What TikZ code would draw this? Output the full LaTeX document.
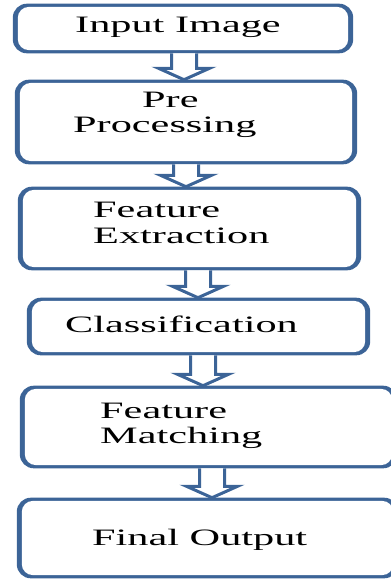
\documentclass[tikz,border=0pt]{standalone}
\usepackage{fontspec}
\setmainfont{Liberation Serif}
\usepackage{graphicx}
\usetikzlibrary{calc}
\definecolor{boxblue}{RGB}{60,100,151}
\tikzset{
  box/.style={inner sep=0pt},
  arr/.style={draw=boxblue, fill=white, line width=3pt, line join=miter},
  lbl/.style={anchor=base west, inner sep=0pt, font=\fontsize{23.5}{26}\selectfont, text=black}
}
% frame with thicker vertical sides than horizontal ones
\newcommand\myframe[1]{%
  \fill[boxblue, rounded corners=14pt] ($(#1.south west)+(-2.5,1.6)$) rectangle ($(#1.north east)+(2.5,-1.6)$);
  \fill[white, rounded corners=11pt] ($(#1.south west)+(2.5,-1.6)$) rectangle ($(#1.north east)+(-2.5,1.6)$);
}
\newcommand\blockarrow[3]{%
  \path (#1.south -| #3) coordinate (tt) (#2.north -| #3) coordinate (pp);
  \filldraw[arr] ($(tt)+(-12.5,1.6)$) -- ($(pp)+(-12.5,-13)$) -- ($(pp)+(-25.5,-13)$)
    -- ($(pp)+(0,-1.6)$) -- ($(pp)+(25.5,-13)$) -- ($(pp)+(12.5,-13)$) -- ($(tt)+(12.5,1.6)$);
}
\newcommand\sx[1]{\scalebox{1.8}[1]{#1}}
\begin{document}
\begin{tikzpicture}[x=1pt,y=-1pt]
\useasboundingbox (0,0) rectangle (391,579);
\clip (0,0) rectangle (391,579);
% boxes (named nodes, frames drawn from their corners)
\node[box, minimum width=335pt, minimum height=46pt] (b1) at (183,28.5) {};
\node[box, minimum width=337pt, minimum height=81pt] (b2) at (186,122) {};
\node[box, minimum width=338pt, minimum height=80pt] (b3) at (189.5,228.5) {};
\node[box, minimum width=338pt, minimum height=54pt] (b4) at (198.5,326.5) {};
\node[box, minimum width=372pt, minimum height=79pt] (b5) at (208.5,427) {};
\node[box, minimum width=376pt, minimum height=77pt] (b6) at (207.5,538) {};
\myframe{b1}
\myframe{b2}
\myframe{b3}
\myframe{b4}
\myframe{b5}
\myframe{b6}
% texts
\node[lbl] (t1) at (75,32) {\sx{Input Image}};
\node[lbl] (t2a) at (142,107) {\sx{Pre}};
\node[lbl] (t2b) at (73,132) {\sx{Processing}};
\node[lbl] (t3a) at (93,217) {\sx{Feature}};
\node[lbl] (t3b) at (93,243) {\sx{Extraction}};
\node[lbl] (t4) at (65,332) {\sx{Classification}};
\node[lbl] (t5a) at (100,418) {\sx{Feature}};
\node[lbl] (t5b) at (100,443) {\sx{Matching}};
\node[lbl] (t6) at (92,545) {\sx{Final Output}};
% arrows
\coordinate (x1) at (184,0);
\coordinate (x2) at (186,0);
\coordinate (x3) at (198,0);
\coordinate (x4) at (203,0);
\coordinate (x5) at (212,0);
\blockarrow{b1}{b2}{x1}
\blockarrow{b2}{b3}{x2}
\blockarrow{b3}{b4}{x3}
\blockarrow{b4}{b5}{x4}
\blockarrow{b5}{b6}{x5}
\end{tikzpicture}
\end{document}
